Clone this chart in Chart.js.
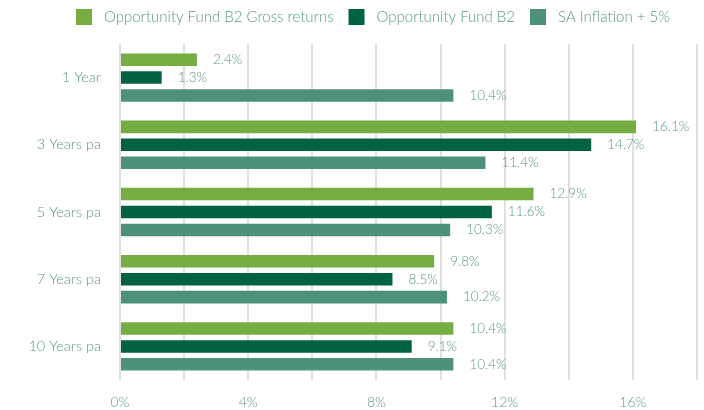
<!DOCTYPE html>
<html>
<head>
<meta charset="utf-8">
<script src="https://cdn.jsdelivr.net/npm/chart.js@4"></script>
<style>
  html, body { margin: 0; padding: 0; background: #fff; }
  #wrap { width: 704px; height: 410px; }
</style>
</head>
<body>
<div id="wrap"><canvas id="perfChart"></canvas></div>
<script>
// Chart data
const categories = ['1 Year', '3 Years pa', '5 Years pa', '7 Years pa', '10 Years pa'];
const seriesNames = ['Opportunity Fund B2 Gross returns', 'Opportunity Fund B2', 'SA Inflation + 5%'];
const grossReturns = [2.4, 16.1, 12.9, 9.8, 10.4];
const fundReturns = [1.3, 14.7, 11.6, 8.5, 9.1];
const inflationPlus5 = [10.4, 11.4, 10.3, 10.2, 10.4];
const seriesColors = ['#76ad43', '#006241', '#4d9179'];

const textColor = '#5a9a80';
const fontFamily = 'Lato, "Open Sans", sans-serif';

// Value labels at the end of each bar
const valueLabels = {
	id: 'valueLabels',
	afterDatasetsDraw(chart) {
		const ctx = chart.ctx;
		ctx.save();
		ctx.font = '300 13.5px ' + fontFamily;
		ctx.fillStyle = textColor;
		ctx.textAlign = 'left';
		ctx.textBaseline = 'middle';
		chart.data.datasets.forEach((ds, i) => {
			chart.getDatasetMeta(i).data.forEach((bar, j) => {
				ctx.fillText(ds.data[j].toFixed(1) + '%', bar.x + 16, bar.y);
			});
		});
		ctx.restore();
	},
};

// Legend drawn by hand so the spacing matches the original
const topLegend = {
	id: 'topLegend',
	afterDraw(chart) {
		const ctx = chart.ctx;
		ctx.save();
		ctx.font = '300 15px ' + fontFamily;
		ctx.textBaseline = 'middle';
		ctx.textAlign = 'left';
		let x = 76;
		const y = 17;
		chart.data.datasets.forEach((ds) => {
			ctx.fillStyle = ds.backgroundColor;
			ctx.fillRect(x, y - 8, 16, 16);
			x += 16 + 12;
			ctx.fillStyle = textColor;
			ctx.fillText(ds.label, x, y);
			x += ctx.measureText(ds.label).width + 15;
		});
		ctx.restore();
	},
};

const ctx = document.getElementById('perfChart').getContext('2d');

const chart = new Chart(ctx, {
	type: 'bar',
	data: {
		labels: categories,
		datasets: [grossReturns, fundReturns, inflationPlus5].map((values, i) => ({
			label: seriesNames[i],
			data: values,
			backgroundColor: seriesColors[i],
			borderWidth: 0,
			categoryPercentage: 0.8,
			barPercentage: 0.7,
		})),
	},
	options: {
		indexAxis: 'y',
		responsive: true,
		maintainAspectRatio: false,
		animation: false,
		layout: { padding: { left: 0, right: 0, top: 44, bottom: 0 } },
		plugins: {
			legend: { display: false },
			tooltip: { enabled: false },
		},
		scales: {
			x: {
				min: 0,
				max: 18,
				border: { display: false },
				grid: { color: '#e0e0e0', lineWidth: 2, drawTicks: false },
				afterFit: (scale) => {
					scale.height = 30;
					scale.paddingRight = 7;
				},
				ticks: {
					stepSize: 2,
					color: textColor,
					padding: 14,
					maxRotation: 0,
					font: { family: fontFamily, size: 14, weight: 300 },
					callback: (v) => (v % 4 === 0 && v <= 16 ? v + '%' : ''),
				},
			},
			y: {
				border: { display: false },
				grid: { display: false, drawTicks: false },
				afterFit: (scale) => { scale.width = 120; },
				ticks: {
					color: textColor,
					padding: 19,
					font: { family: fontFamily, size: 14.5, weight: 300 },
				},
			},
		},
	},
	plugins: [valueLabels, topLegend],
});
</script>
</body>
</html>
